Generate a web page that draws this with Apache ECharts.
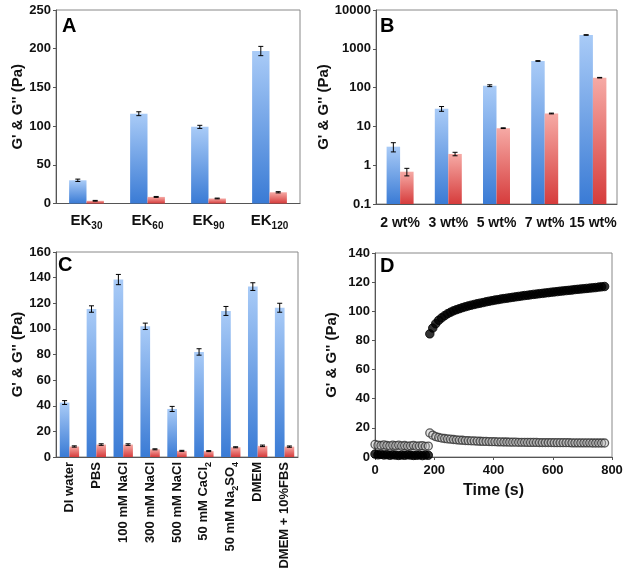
<!DOCTYPE html>
<html><head><meta charset="utf-8">
<script src="https://cdn.jsdelivr.net/npm/echarts@6/dist/echarts.min.js"></script>
<style>html,body{margin:0;padding:0;background:#fff}#c{width:628px;height:577px}</style>
</head><body><div id="c"></div>
<script>
// ---------- Panel A ----------
const catsA = ['EK_30', 'EK_60', 'EK_90', 'EK_120'];
const gPrimeA = [30, 116, 99, 197];
const gPrimeErrA = [1.5, 2.5, 2, 6];
const gDoubleA = [3.5, 8.5, 6.5, 14.5];
const gDoubleErrA = [0.5, 0.6, 0.5, 0.8];
// ---------- Panel B ----------
const catsB = ['2 wt%', '3 wt%', '5 wt%', '7 wt%', '15 wt%'];
const gPrimeB = [3.0, 28.5, 112, 485, 2270];
const gPrimeErrB = [0.8, 4, 6, 10, 40];
const gDoubleB = [0.68, 1.95, 9.0, 21.5, 180];
const gDoubleErrB = [0.15, 0.2, 0.2, 0.5, 3];
// ---------- Panel C ----------
const catsC = ['DI water', 'PBS', '100 mM NaCl', '300 mM NaCl', '500 mM NaCl', '50 mM CaCl_2', '50 mM Na_2SO_4', 'DMEM', 'DMEM + 10%FBS'];
const gPrimeC = [42.5, 115.5, 138.5, 102, 37.5, 82, 114, 133, 116.5];
const gPrimeErrC = [1.5, 2.5, 4, 2.5, 2, 2.5, 3.5, 3, 3.5];
const gDoubleC = [8.2, 9.7, 9.7, 6, 4.8, 4.6, 7.6, 8.7, 8.1];
const gDoubleErrC = [0.5, 0.6, 0.6, 0.4, 0.4, 0.4, 0.4, 0.6, 0.5];
// ---------- Panel D ----------
const timeD1 = [0,10,20,30,40,50,60,70,80,90,100,110,120,130,140,150,160,170,180];
const gPrimeD1 = [2,1.5,1.8,1.4,1.6,1.2,1.5,1.3,1.1,1.4,1.2,1.5,1.3,1.1,1.2,1.4,1.0,1.3,1.2];
const gDoubleD1 = [8.6,8.1,7.9,8.3,7.9,7.7,8.1,7.8,8.2,7.6,7.9,7.5,7.7,8.0,7.4,7.6,7.8,7.3,7.5];
const timeD2 = [185,195,205,215,225,235,245,255,265,275,285,295,305,315,325,335,345,355,365,375,385,395,405,415,425,435,445,455,465,475,485,495,505,515,525,535,545,555,565,575,585,595,605,615,625,635,645,655,665,675,685,695,705,715,725,735,745,755,765,775];
const gPrimeD2 = [84.5,88.5,91.5,93.8,95.5,97,98.3,99.4,100.3,101.1,101.8,102.5,103.1,103.7,104.2,104.7,105.2,105.6,106,106.5,106.9,107.3,107.7,108,108.4,108.7,109,109.3,109.6,109.9,110.2,110.5,110.8,111,111.3,111.6,111.8,112.1,112.3,112.6,112.8,113.1,113.3,113.5,113.8,114,114.2,114.4,114.6,114.9,115.1,115.3,115.5,115.7,115.9,116.1,116.3,116.6,116.8,117];
const gDoubleD2 = [16.5,15,14,13.4,13,12.7,12.4,12.2,12,11.8,11.6,11.5,11.3,11.2,11.1,11,10.9,10.8,10.7,10.7,10.6,10.5,10.5,10.4,10.4,10.3,10.3,10.2,10.2,10.2,10.1,10.1,10.1,10,10,10,10,9.9,9.9,9.9,9.9,9.9,9.8,9.8,9.8,9.8,9.8,9.8,9.7,9.7,9.7,9.7,9.7,9.7,9.7,9.6,9.6,9.6,9.6,9.6];

const FONT = 'Arial, "Liberation Sans", sans-serif';
const TXT = '#111';
const AXC = '#555';
const blueGrad = {type:'linear',x:0,y:0,x2:0,y2:1,colorStops:[{offset:0,color:'#a9cbf7'},{offset:1,color:'#3a7bd5'}]};
const redGrad = {type:'linear',x:0,y:0,x2:0,y2:1,colorStops:[{offset:0,color:'#f6aaa5'},{offset:1,color:'#d63c3c'}]};
const yName = "G' & G'' (Pa)";
const gapA = 0.43, gapB = 0.44, gapC = 0.28;

const subRich = {s:{fontSize:10,fontWeight:'bold',fontFamily:FONT,color:TXT,lineHeight:10,verticalAlign:'bottom'}};
const subFmt = s => s.replace(/_(\w)/g, '{s|$1}');
const subFmtA = s => s.replace(/_(\d+)/, '{s|$1}');

function yAxisBase(gi, gap) {
  return {gridIndex:gi, name:yName, nameLocation:'middle', nameGap:gap,
    nameTextStyle:{fontSize:15,fontWeight:'bold',fontFamily:FONT,color:TXT},
    axisLine:{show:true,lineStyle:{color:AXC}}, axisTick:{show:true,length:3,lineStyle:{color:AXC}},
    splitLine:{show:false}, axisLabel:{fontSize:13,fontWeight:'bold',fontFamily:FONT,color:TXT,margin:5}};
}
function errSeries(xi, vals, errs, side, gap) {
  return {type:'custom', xAxisIndex:xi, yAxisIndex:xi, z:10, silent:true,
    data: vals.map((v,i)=>[i, v, errs[i]]),
    renderItem:(params, api)=>{
      const i = api.value(0), v = api.value(1), e = api.value(2);
      const band = api.size([1,0],[i,v])[0];
      const bw = band*(1-gap)/2;
      const c = api.coord([i, v]);
      const x = c[0] + side*bw/2;
      const top = api.coord([i, v+e])[1], bot = api.coord([i, v-e])[1];
      const st = {stroke:'#000', lineWidth:1};
      return {type:'group', children:[
        {type:'line', shape:{x1:x,y1:top,x2:x,y2:bot}, style:st},
        {type:'line', shape:{x1:x-2.5,y1:top,x2:x+2.5,y2:top}, style:st},
        {type:'line', shape:{x1:x-2.5,y1:bot,x2:x+2.5,y2:bot}, style:st}
      ]};
    }};
}
function logBars(vals, side, grad) {
  return {type:'custom', xAxisIndex:1, yAxisIndex:1, z:5, silent:true,
    data: vals.map((v,i)=>[i, v]),
    renderItem:(params, api)=>{
      const i = api.value(0), v = api.value(1);
      const band = api.size([1,0],[i,v])[0];
      const bw = band*(1-gapB)/2;
      const c = api.coord([i, v]);
      const b = api.coord([i, 0.1]);
      const x = side < 0 ? c[0]-bw : c[0];
      return {type:'rect', shape:{x:x, y:c[1], width:bw, height:b[1]-c[1]}, style:{fill:grad}};
    }};
}
const gridBase = {show:true, borderColor:'#888', borderWidth:1, containLabel:false, outerBoundsMode:'none'};

const option = {
  animation:false,
  backgroundColor:'#fff',
  textStyle:{fontFamily:FONT},
  grid:[
    Object.assign({left:56, top:10, width:244, height:193.5}, gridBase),
    Object.assign({left:376, top:10, width:241, height:194}, gridBase),
    Object.assign({left:56, top:252, width:242, height:205}, gridBase),
    Object.assign({left:375, top:253, width:237, height:204}, gridBase)
  ],
  xAxis:[
    {type:'category', gridIndex:0, data:catsA, axisTick:{show:false}, axisLine:{lineStyle:{color:AXC}},
      axisLabel:{formatter:subFmtA, interval:0, fontSize:15, fontWeight:'bold', fontFamily:FONT, color:TXT, lineHeight:22, margin:6, rich:subRich}},
    {type:'category', gridIndex:1, data:catsB, axisTick:{show:false}, axisLine:{lineStyle:{color:AXC}},
      axisLabel:{fontSize:14, fontWeight:'bold', fontFamily:FONT, color:TXT, margin:12, interval:0}},
    {type:'category', gridIndex:2, data:catsC, axisTick:{show:false}, axisLine:{lineStyle:{color:AXC}},
      axisLabel:{formatter:subFmt, rotate:90, interval:0, fontSize:13, fontWeight:'bold', fontFamily:FONT, color:TXT, lineHeight:18, margin:5,
        rich:{s:{fontSize:9,fontWeight:'bold',fontFamily:FONT,color:TXT,lineHeight:9,verticalAlign:'bottom'}}}},
    {type:'value', gridIndex:3, min:0, max:800, interval:200, name:'Time (s)', nameLocation:'middle', nameGap:26,
      nameTextStyle:{fontSize:16,fontWeight:'bold',fontFamily:FONT,color:TXT},
      axisLine:{lineStyle:{color:AXC}}, axisTick:{show:true,length:3,lineStyle:{color:AXC}}, splitLine:{show:false},
      axisLabel:{fontSize:13,fontWeight:'bold',fontFamily:FONT,color:TXT,margin:7}}
  ],
  yAxis:[
    Object.assign(yAxisBase(0,31), {type:'value', min:0, max:250, interval:50}),
    Object.assign(yAxisBase(1,37), {type:'log', logBase:10, min:0.1, max:10000}),
    Object.assign(yAxisBase(2,31), {type:'value', min:0, max:160, interval:20}),
    Object.assign(yAxisBase(3,36), {type:'value', min:0, max:140, interval:20})
  ],
  series:[
    {type:'bar', xAxisIndex:0, yAxisIndex:0, data:gPrimeA, barGap:'0%', barCategoryGap:(gapA*100)+'%', itemStyle:{color:blueGrad}},
    {type:'bar', xAxisIndex:0, yAxisIndex:0, data:gDoubleA, barGap:'0%', barCategoryGap:(gapA*100)+'%', itemStyle:{color:redGrad}},
    errSeries(0, gPrimeA, gPrimeErrA, -1, gapA),
    errSeries(0, gDoubleA, gDoubleErrA, 1, gapA),
    logBars(gPrimeB, -1, blueGrad),
    logBars(gDoubleB, 1, redGrad),
    errSeries(1, gPrimeB, gPrimeErrB, -1, gapB),
    errSeries(1, gDoubleB, gDoubleErrB, 1, gapB),
    {type:'bar', xAxisIndex:2, yAxisIndex:2, data:gPrimeC, barGap:'0%', barCategoryGap:(gapC*100)+'%', itemStyle:{color:blueGrad}},
    {type:'bar', xAxisIndex:2, yAxisIndex:2, data:gDoubleC, barGap:'0%', barCategoryGap:(gapC*100)+'%', itemStyle:{color:redGrad}},
    errSeries(2, gPrimeC, gPrimeErrC, -1, gapC),
    errSeries(2, gDoubleC, gDoubleErrC, 1, gapC),
    {type:'scatter', name:"G'", xAxisIndex:3, yAxisIndex:3, symbol:'circle', symbolSize:8.5,
      data: timeD1.map((t,i)=>[t,gPrimeD1[i]]).concat(timeD2.map((t,i)=>[t,gPrimeD2[i]])),
      itemStyle:{color:'#000', borderColor:'#000', borderWidth:1}},
    {type:'scatter', name:"G''", xAxisIndex:3, yAxisIndex:3, symbol:'circle', symbolSize:8,
      data: timeD1.map((t,i)=>[t,gDoubleD1[i]]).concat(timeD2.map((t,i)=>[t,gDoubleD2[i]])),
      itemStyle:{color:'rgba(190,190,190,0.5)', borderColor:'#333', borderWidth:1.3}}
  ],
  graphic:[
    {type:'text', left:62, top:16, style:{text:'A', font:'bold 20px '+FONT, fill:'#000'}},
    {type:'text', left:380, top:16, style:{text:'B', font:'bold 20px '+FONT, fill:'#000'}},
    {type:'text', left:58, top:255, style:{text:'C', font:'bold 20px '+FONT, fill:'#000'}},
    {type:'text', left:380, top:256, style:{text:'D', font:'bold 20px '+FONT, fill:'#000'}}
  ]
};
option.yAxis[1].axisLabel.formatter = v => String(+(+v).toPrecision(3));
const chart = echarts.init(document.getElementById('c'), null, {renderer:'canvas'});
chart.setOption(option);
</script></body></html>
